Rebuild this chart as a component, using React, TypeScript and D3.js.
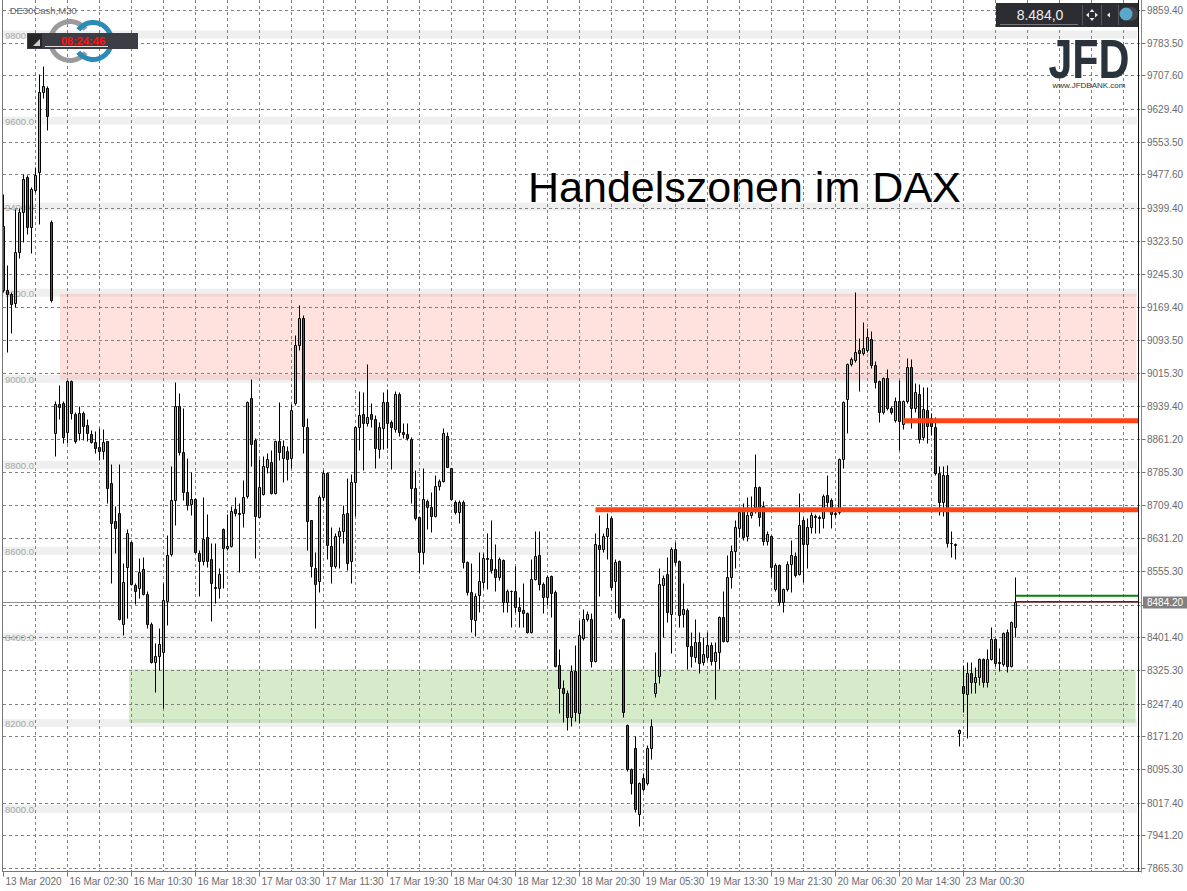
import React from 'react';
import * as d3 from 'd3';

// DE30 M30 candles (bar 0 = 13 Mar 2020)
const opens = [
  9357, 9208, 9199, 9178, 9297, 9390, 9471, 9355, 9441, 9483, 9669, 9678, 9367,
  8876, 8943, 8946, 8878, 8997, 8920, 8876, 8922, 8895, 8874, 8855, 8844, 8834, 8858, 8760, 8672,
  8690, 8432, 8565, 8623, 8523, 8516, 8560, 8502, 8432, 8344, 8358, 8367,
  8486, 8595, 8721, 8939, 8832, 8739, 8711, 8723, 8597, 8579, 8634, 8583, 8518, 8516, 8653,
  8609, 8614, 8700, 8690, 8690, 8730, 8957, 8860, 8681, 8734, 8797, 8809, 8737, 8858, 8818, 8834, 8818,
  8946, 9081, 9143, 8890, 8674, 8563, 8532, 8727,
  8783, 8614, 8567, 8637, 8649, 8690, 8579, 8762, 8890, 8920, 8899, 8920, 8909, 8839, 8888, 8948, 8902, 8886, 8967, 8879,
  8874, 8862, 8748, 8681, 8600, 8718, 8704, 8683, 8753, 8765, 8869, 8795, 8716, 8693, 8716, 8576, 8507, 8441, 8500, 8530,
  8583, 8583, 8560, 8542, 8581, 8483, 8509, 8509, 8472, 8465, 8458, 8414, 8537, 8593, 8525, 8495, 8544, 8507, 8337, 8284,
  8272, 8216, 8323, 8226, 8400, 8444, 8444, 8346, 8616, 8607, 8637, 8679, 8532, 8579, 8444, 8197, 8095, 8144, 7991, 8075,
  8063, 8144, 8272, 8311, 8523, 8549, 8455, 8607, 8579, 8455, 8465, 8381, 8356, 8390, 8344, 8356, 8384, 8346, 8367, 8449,
  8393, 8541, 8602, 8655, 8702, 8637, 8686, 8704, 8751, 8707, 8625, 8637, 8514, 8569, 8483, 8514, 8572, 8590, 8549, 8674,
  8618, 8657, 8683, 8681, 8679, 8732, 8721, 8688, 8693, 8816, 8955, 9037, 9046, 9069, 9062, 9069, 9095, 9034, 8997, 8925,
  9004, 8934, 8906, 8951, 8897, 8951, 9029, 8934, 8967, 8867, 8930, 8911, 8890, 8783, 8716, 8779, 8621, 8618, 8179, 8288,
  8270, 8319, 8298, 8309, 8351, 8298, 8351, 8397, 8344, 8339, 8414, 8335, 8425,
];
const highs = [
  9432, 9267, 9204, 9398, 9399, 9478, 9476, 9448, 9495, 9711, 9729, 9683, 9371,
  8951, 8988, 8951, 8999, 8999, 8925, 8939, 8927, 8909, 8883, 8881, 8888, 8886, 8858, 8804, 8707,
  8804, 8574, 8653, 8625, 8527, 8585, 8588, 8510, 8437, 8388, 8423, 8527,
  8639, 8800, 8994, 8969, 8934, 8818, 8786, 8725, 8604, 8728, 8688, 8620, 8620, 8563, 8655,
  8688, 8707, 8728, 8713, 8767, 8951, 9001, 8865, 8816, 8823, 8830, 8837, 8860, 8948, 8860, 8846, 8944,
  9104, 9174, 9150, 8911, 8674, 8600, 8732, 8790,
  8786, 8658, 8644, 8658, 8709, 8772, 8781, 8893, 8974, 8972, 9037, 8946, 8918, 8902, 8971, 8979, 8907, 8974, 8972, 8899,
  8899, 8867, 8790, 8681, 8795, 8723, 8739, 8779, 8769, 8888, 8879, 8795, 8721, 8721, 8721, 8579, 8574, 8504, 8600, 8597,
  8644, 8674, 8618, 8588, 8583, 8514, 8511, 8567, 8495, 8528, 8460, 8583, 8649, 8649, 8530, 8546, 8546, 8511, 8374, 8302,
  8279, 8337, 8384, 8441, 8467, 8463, 8458, 8644, 8686, 8644, 8690, 8683, 8583, 8581, 8446, 8200, 8098, 8172, 8065, 8086,
  8151, 8211, 8367, 8562, 8546, 8588, 8611, 8623, 8581, 8528, 8469, 8414, 8444, 8413, 8402, 8414, 8390, 8390, 8451, 8509,
  8593, 8616, 8675, 8704, 8713, 8728, 8730, 8827, 8753, 8718, 8649, 8639, 8574, 8572, 8516, 8579, 8627, 8600, 8736, 8681,
  8679, 8693, 8688, 8686, 8734, 8779, 8725, 8700, 8818, 8951, 9039, 9053, 9204, 9097, 9134, 9120, 9114, 9044, 8999, 9006,
  9025, 8939, 8960, 8999, 8953, 9050, 9048, 8992, 8990, 8983, 8983, 8923, 8914, 8799, 8799, 8802, 8649, 8620, 8188, 8337,
  8344, 8344, 8332, 8353, 8353, 8374, 8425, 8400, 8376, 8414, 8421, 8439, 8541,
];
const lows = [
  9204, 9065, 9109, 9169, 9283, 9320, 9339, 9295, 9436, 9362, 9655, 9580, 9181,
  8823, 8909, 8853, 8853, 8909, 8853, 8860, 8860, 8858, 8853, 8830, 8813, 8816, 8714, 8528, 8597,
  8441, 8407, 8446, 8523, 8479, 8493, 8500, 8423, 8342, 8274, 8325, 8237,
  8430, 8590, 8662, 8825, 8721, 8697, 8686, 8597, 8498, 8569, 8565, 8439, 8481, 8493, 8516,
  8604, 8611, 8683, 8553, 8658, 8725, 8800, 8586, 8681, 8732, 8783, 8734, 8734, 8813, 8763, 8767, 8795,
  8941, 9069, 8830, 8604, 8541, 8423, 8507, 8721,
  8583, 8528, 8563, 8563, 8620, 8557, 8528, 8683, 8837, 8790, 8893, 8890, 8795, 8818, 8839, 8841, 8793, 8879, 8869, 8865,
  8860, 8714, 8674, 8551, 8572, 8653, 8646, 8681, 8744, 8763, 8797, 8721, 8688, 8667, 8563, 8500, 8414, 8404, 8460, 8516,
  8514, 8551, 8509, 8535, 8460, 8460, 8425, 8460, 8425, 8425, 8411, 8411, 8535, 8511, 8458, 8476, 8448, 8332, 8225, 8205,
  8186, 8195, 8207, 8202, 8395, 8440, 8332, 8344, 8498, 8600, 8583, 8511, 8458, 8444, 8216, 8091, 8037, 7995, 7963, 8044,
  8058, 8119, 8263, 8295, 8402, 8437, 8364, 8569, 8425, 8425, 8328, 8332, 8344, 8318, 8337, 8348, 8337, 8258, 8328, 8391,
  8391, 8516, 8563, 8634, 8627, 8625, 8679, 8690, 8660, 8616, 8616, 8541, 8509, 8476, 8460, 8509, 8507, 8541, 8546, 8530,
  8563, 8644, 8644, 8644, 8655, 8704, 8655, 8681, 8688, 8795, 8876, 9032, 9041, 8974, 9058, 9065, 9027, 8981, 8902, 8920,
  8930, 8920, 8902, 8837, 8886, 8946, 8888, 8925, 8853, 8860, 8853, 8871, 8779, 8686, 8683, 8611, 8588, 8583, 8149, 8228,
  8167, 8272, 8272, 8290, 8286, 8286, 8348, 8335, 8323, 8335, 8321, 8332, 8402,
];
const closes = [
  9208, 9199, 9176, 9296, 9389, 9467, 9355, 9443, 9476, 9669, 9683, 9613, 9185,
  8943, 8937, 8867, 8997, 8922, 8858, 8922, 8892, 8876, 8855, 8841, 8834, 8855, 8748, 8667, 8655,
  8444, 8530, 8644, 8525, 8509, 8553, 8502, 8432, 8344, 8358, 8385, 8488,
  8593, 8721, 8939, 8832, 8739, 8709, 8723, 8600, 8579, 8629, 8579, 8528, 8516, 8549, 8609,
  8614, 8695, 8690, 8688, 8727, 8948, 8850, 8683, 8750, 8800, 8816, 8737, 8858, 8832, 8846, 8816, 8930,
  9081, 9143, 8893, 8672, 8567, 8525, 8727, 8783,
  8616, 8567, 8637, 8649, 8688, 8574, 8762, 8890, 8918, 8899, 8913, 8909, 8841, 8890, 8948, 8899, 8890, 8967, 8879, 8874,
  8865, 8748, 8679, 8600, 8723, 8704, 8683, 8753, 8765, 8876, 8797, 8723, 8693, 8716, 8576, 8507, 8444, 8497, 8532, 8586,
  8586, 8558, 8542, 8583, 8483, 8509, 8509, 8472, 8463, 8458, 8414, 8537, 8590, 8525, 8495, 8541, 8504, 8335, 8283, 8272,
  8216, 8323, 8228, 8407, 8444, 8455, 8346, 8618, 8607, 8637, 8655, 8518, 8576, 8449, 8228, 8095, 8063, 8002, 8063, 8049,
  8144, 8195, 8295, 8525, 8539, 8460, 8607, 8576, 8453, 8467, 8381, 8358, 8390, 8342, 8362, 8384, 8346, 8367, 8449, 8393,
  8541, 8602, 8657, 8693, 8634, 8686, 8693, 8751, 8681, 8625, 8641, 8565, 8569, 8483, 8514, 8572, 8593, 8546, 8662, 8618,
  8657, 8686, 8681, 8679, 8730, 8716, 8688, 8690, 8816, 8948, 9037, 9048, 9065, 9062, 9074, 9099, 9034, 8995, 8925, 9004,
  8934, 8925, 8951, 8904, 8951, 9029, 8934, 8971, 8862, 8932, 8892, 8892, 8783, 8716, 8779, 8621, 8621, 8616, 8186, 8272,
  8319, 8298, 8309, 8351, 8298, 8351, 8397, 8342, 8342, 8411, 8335, 8437, 8484.2,
];

const timeLabels = [
  '13 Mar 2020', '16 Mar 02:30', '16 Mar 10:30', '16 Mar 18:30', '17 Mar 03:30', '17 Mar 11:30',
  '17 Mar 19:30', '18 Mar 04:30', '18 Mar 12:30', '18 Mar 20:30', '19 Mar 05:30', '19 Mar 13:30',
  '19 Mar 21:30', '20 Mar 06:30', '20 Mar 14:30', '23 Mar 00:30',
];
const priceTicks = [
  9859.4, 9783.5, 9707.6, 9629.4, 9553.5, 9477.6, 9399.4, 9323.5, 9245.3, 9169.4, 9093.5, 9015.3, 8939.4,
  8861.2, 8785.3, 8709.4, 8631.2, 8555.3, 8477.4, 8401.4, 8325.3, 8247.4, 8171.2, 8095.3, 8017.4, 7941.2, 7865.3,
];
const roundLevels = [9800, 9600, 9400, 9200, 9000, 8800, 8600, 8400, 8200, 8000];
const resistanceZone = { from: 9000, to: 9200, startBar: 14.1 };
const supportZone = { from: 8203, to: 8327, startBar: 31.4 };
const orangeLevels = [
  { price: 8698, startBar: 148 },
  { price: 8905, startBar: 225 },
];
const bidPrice = 8484.2;
const askPrice = 8498;

const W = 1187;
const H = 891;
const right = 1141.5;
const shiftLine = 1138.5;
const bottom = 871.5;
const font = '"Liberation Sans", Arial, sans-serif';
const bull = '#2fe08c';
const bear = '#de1c1c';

const App: React.FC = () => {
  const n = closes.length;
  const xScale = d3.scaleLinear().domain([0, 284]).range([3.5, 3.5 + 4 * 284]);
  const yScale = d3.scaleLinear().domain([7865.3, 9859.4]).range([868, 10]);
  const py = (v: number) => Math.round(yScale(v)) + 0.5;

  const ring = d3.arc<any>();
  const grayRing = ring({ innerRadius: 17, outerRadius: 22, startAngle: Math.PI / 2 + 0.65, endAngle: Math.PI * 2.5 - 0.65 }) || '';
  const blueRing = ring({ innerRadius: 16, outerRadius: 21, startAngle: -Math.PI / 2 + 0.65, endAngle: Math.PI * 1.5 - 0.65 }) || '';

  const lastX = xScale(n - 1);

  return (
    <div style={{ position: 'absolute', left: 0, top: 0 }}>
      <svg width={W} height={H} style={{ display: 'block', background: '#fff' }}>
        {/* round-number bands */}
        {roundLevels.map((lv) => (
          <rect key={'b' + lv} x={3} y={yScale(lv) - 5} width={1134} height={8} fill="#efefef" />
        ))}

        {/* zones */}
        <rect x={xScale(resistanceZone.startBar)} y={yScale(resistanceZone.to)} width={shiftLine - 2 - xScale(resistanceZone.startBar)}
          height={yScale(resistanceZone.from) - yScale(resistanceZone.to)} fill="rgb(255,150,140)" fillOpacity={0.29} />
        <rect x={xScale(supportZone.startBar)} y={yScale(supportZone.to)} width={shiftLine - 3 - xScale(supportZone.startBar)}
          height={yScale(supportZone.from) - yScale(supportZone.to)} fill="rgb(120,190,80)" fillOpacity={0.3} />

        {roundLevels.map((lv) => (
          <text key={'bl' + lv} x={5} y={yScale(lv) + 3} fontFamily={font} fontSize={9.5} fill="#a9a9a9">
            {lv.toFixed(1)}
          </text>
        ))}

        {/* grid */}
        <g stroke="#808080" strokeWidth={1} strokeDasharray="3,3">
          {priceTicks.map((t) => (
            <line key={'h' + t} x1={3} x2={right} y1={py(t)} y2={py(t)} />
          ))}
          {d3.range(8, 284, 8).map((i) => (
            <line key={'v' + i} x1={xScale(i)} x2={xScale(i)} y1={0} y2={bottom} />
          ))}
        </g>

        {/* bid line */}
        <line x1={3} x2={right} y1={py(bidPrice)} y2={py(bidPrice)} stroke="#8c8c8c" />

        {/* candles */}
        <g>
          {closes.map((c, i) => {
            const o = opens[i];
            const cx = xScale(i);
            const top = py(Math.max(o, c));
            const bot = py(Math.min(o, c));
            return (
              <g key={'c' + i}>
                <line x1={cx} x2={cx} y1={py(highs[i])} y2={py(lows[i])} stroke="#000" />
                <path d={`M${cx - 1},${top}H${cx + 1}V${bot}H${cx - 1}Z`} fill={c >= o ? bull : bear} stroke="#000" />
              </g>
            );
          })}
        </g>

        {/* orange levels */}
        {orangeLevels.map((l) => (
          <line key={'o' + l.price} x1={xScale(l.startBar)} x2={shiftLine} y1={yScale(l.price)} y2={yScale(l.price)}
            stroke="#ff4516" strokeWidth={5} />
        ))}

        {/* ask / bid short lines */}
        <line x1={lastX} x2={shiftLine} y1={yScale(askPrice)} y2={yScale(askPrice)} stroke="#0a7f0a" strokeWidth={2} />
        <line x1={lastX} x2={shiftLine} y1={yScale(bidPrice)} y2={yScale(bidPrice)} stroke="#8b1010" strokeWidth={1.5} />

        {/* frame */}
        <line x1={2.5} x2={2.5} y1={0} y2={bottom} stroke="#777" />
        <line x1={2} x2={right} y1={bottom} y2={bottom} stroke="#777" />
        <line x1={shiftLine} x2={shiftLine} y1={0} y2={bottom} stroke="#111" />
        <line x1={right} x2={right} y1={0} y2={bottom + 1} stroke="#888" />

        {/* price axis */}
        {priceTicks.map((t) => (
          <g key={'pt' + t}>
            <line x1={right} x2={right + 4} y1={py(t)} y2={py(t)} stroke="#777" />
            {Math.abs(t - bidPrice) > 15 && (
              <text x={1147} y={py(t) + 3.5} fontFamily={font} fontSize={10} fill="#6b6b6b">{t.toFixed(2)}</text>
            )}
          </g>
        ))}
        <rect x={1143} y={py(bidPrice) - 6} width={44} height={12} fill="#808080" />
        <text x={1147} y={py(bidPrice) + 3.5} fontFamily={font} fontSize={10} fill="#fff">{bidPrice.toFixed(2)}</text>

        {/* time axis */}
        {timeLabels.map((lab, k) => {
          const x = xScale(k * 16);
          return (
            <g key={'tl' + k}>
              <line x1={x} x2={x} y1={bottom} y2={bottom + 5} stroke="#777" />
              <text x={x + 2} y={885} fontFamily={font} fontSize={10} fill="#6b6b6b">{lab}</text>
            </g>
          );
        })}

        {/* title */}
        <text x={528} y={202} fontFamily={font} fontSize={43} fill="#000">Handelszonen im DAX</text>

        {/* top-left symbol + logo */}
        <text x={7} y={14} fontFamily={font} fontSize={9.5} fill="#5d6672">.DE30Cash,M30</text>
        <path d={grayRing} transform="translate(70,41)" fill="#9b9b9b" />
        <path d={blueRing} transform="translate(93,41)" fill="#2b8bb6" />
        <rect x={27} y={33} width={111} height={16} fill="#3d3d45" />
        <rect x={28} y={34} width={14} height={14} fill="#262629" />
        <path d="M33,46 L40,39 L40,46 Z" fill="#cfcfcf" />
        <text x={83} y={45} textAnchor="middle" fontFamily={font} fontSize={11} fontWeight="bold" fill="#ff1414">08:24:46</text>
        <line x1={45} x2={108} y1={46.5} y2={46.5} stroke="#e0e0e0" />

        {/* top-right price box */}
        <rect x={996} y={3} width={142} height={24} fill="#2c2c33" />
        <text x={1040} y={20} textAnchor="middle" fontFamily={font} fontSize={14} fill="#eeeeee">8.484,0</text>
        <line x1={1000} x2={1078} y1={24.5} y2={24.5} stroke="#77777c" />
        <line x1={1082.5} x2={1082.5} y1={5} y2={25} stroke="#55555c" />
        <line x1={1101.5} x2={1101.5} y1={5} y2={25} stroke="#55555c" />
        <line x1={1118.5} x2={1118.5} y1={5} y2={25} stroke="#55555c" />
        <path d="M1092,9 L1094.5,12 L1089.5,12 Z M1092,21 L1094.5,18 L1089.5,18 Z M1086,15 L1089,12.5 L1089,17.5 Z M1098,15 L1095,12.5 L1095,17.5 Z" fill="#e8e8e8" />
        <path d="M1107,15 L1110,12.5 L1110,17.5 Z" fill="#e8e8e8" />
        <circle cx={1131} cy={14} r={7} fill="#45454c" />
        <circle cx={1126} cy={14} r={6.5} fill="#5aa8cc" />

        {/* JFD logo */}
        <g transform="translate(1089,78) scale(1,1.3)">
          <text x={0} y={0} textAnchor="middle" fontFamily={font} fontSize={43} fontWeight="bold" fill="#2a323b">JFD</text>
        </g>
        <text x={1089} y={88} textAnchor="middle" fontFamily={font} fontSize={8} fill="#333">www.JFDBANK.com</text>
      </svg>
    </div>
  );
};

export default App;
